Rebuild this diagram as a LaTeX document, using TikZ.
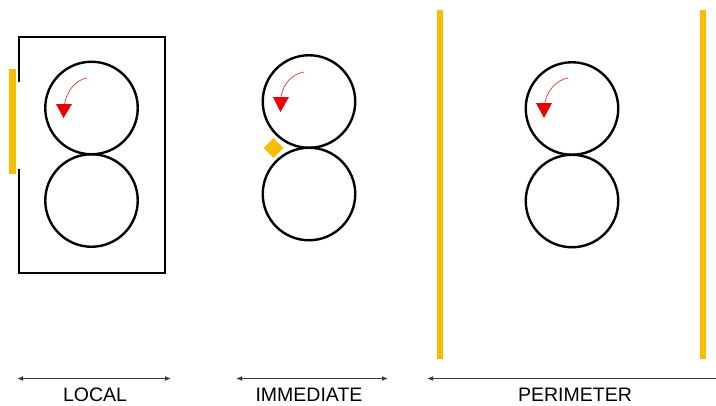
\documentclass[tikz,border=0pt]{standalone}
\usepackage{fontspec}
\setmainfont{Liberation Sans}
\usetikzlibrary{arrows.meta,shapes.geometric}
\definecolor{ambr}{RGB}{247,190,0}
\definecolor{rred}{RGB}{235,0,0}
\definecolor{dgray}{RGB}{60,60,60}
\begin{document}
\begin{tikzpicture}[x=1pt,y=-1pt,
  roll/.style={circle,draw=black,line width=2.4pt,minimum size=92.5pt,inner sep=0pt,outer sep=0pt},
  frame/.style={draw=black,line width=2.4pt},
  bar/.style={draw=ambr,line width=6.5pt},
  rot/.style={draw=rred!80!white,line width=0.7pt},
  rothead/.style={fill=rred,draw=none},
  span/.style={draw=dgray,line width=1.2pt,{Latex[length=6pt,width=5pt]}-{Latex[length=6pt,width=5pt]}},
  lab/.style={font=\fontsize{19.5pt}{22pt}\selectfont,inner sep=0pt,anchor=base}]
\useasboundingbox (0,0) rectangle (716,405);
\fill[white] (0,0) rectangle (716,405);
% LOCAL
\draw[frame] (19,82) -- (19,37) -- (165,37) -- (165,273) -- (19,273) -- (19,169);
\draw[bar] (12.7,69) -- (12.7,174);
\node[roll] (l1) at (91.5,108) {};
\node[roll] (l2) at (91.5,200.5) {};
\draw[rot] (87,78) .. controls (76,80) and (67,90) .. (64.5,104);
\fill[rothead] (56,104) -- (72,104) -- (63.5,118) -- cycle;
% IMMEDIATE
\node[roll] (i1) at (309,101.5) {};
\node[roll] (i2) at (309,194) {};
\node[diamond,fill=ambr,minimum size=20pt,inner sep=0pt] (d) at (273.5,148) {};
\draw[rot] (304,72) .. controls (292,74) and (283,84) .. (281,97);
\fill[rothead] (273,97) -- (289,97) -- (280.5,112) -- cycle;
% PERIMETER
\draw[bar] (440,10) -- (440,359);
\draw[bar] (703,10) -- (703,359);
\node[roll] (p1) at (572,108.5) {};
\node[roll] (p2) at (572,201) {};
\draw[rot] (568,78) .. controls (557,80) and (547,90) .. (545,103);
\fill[rothead] (536,103) -- (552,103) -- (544,118) -- cycle;
% spans
\coordinate (a1) at (17,378.5); \coordinate (a2) at (171,378.5);
\coordinate (b1) at (236,378.5); \coordinate (b2) at (388,378.5);
\coordinate (c1) at (427,378.5); \coordinate (c2) at (720,378.5);
\draw[span] (a1) -- (a2);
\draw[span] (b1) -- (b2);
\draw[draw=dgray,line width=1.2pt,{Latex[length=6pt,width=5pt]}-] (c1) -- (c2);
\node[lab] (tl) at (95,401) {LOCAL};
\node[lab] (ti) at (309,401) {IMMEDIATE};
\node[lab] (tp) at (575,401) {PERIMETER};
\end{tikzpicture}
\end{document}
